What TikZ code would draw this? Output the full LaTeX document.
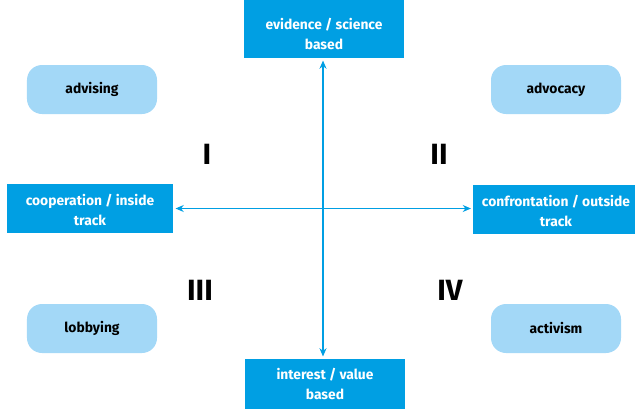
\documentclass[tikz,border=0pt]{standalone}
\usepackage{fontspec}
\setmainfont{Fira Sans}
\usetikzlibrary{arrows.meta}
\definecolor{axisblue}{HTML}{009FE3}
\definecolor{paleblue}{HTML}{A3D8F7}
\tikzset{
    pole/.style={fill=axisblue,text=white,font=\bfseries\fontsize{11.8}{17}\selectfont,
        align=center,inner sep=0pt,minimum width=#1,minimum height=1.47cm},
    pole/.default=4.8cm,
    kind/.style={fill=paleblue,text=black,font=\bfseries\fontsize{11.8}{13.5}\selectfont,
        rounded corners=0.45cm,minimum width=3.9cm,minimum height=1.47cm,inner sep=0pt},
    quarter/.style={font=\bfseries\fontsize{25}{30}\selectfont,text=black},
    axis/.style={axisblue,line width=0.9pt,{Stealth[length=7pt,width=6pt]}-{Stealth[length=7pt,width=6pt]}}
}
\begin{document}
\begin{tikzpicture}[x=0.03cm,y=-0.03cm]
    \useasboundingbox (0,0) rectangle (635,408);
    % poles of the two axes
    \node[pole,minimum height=1.74cm] (evidence) at (324,29) {\rule{0pt}{18pt}evidence / science\\based};
    \node[pole,minimum height=1.5cm] (interest) at (325,384) {interest / value\\based};
    \node[pole=4.98cm] (coop) at (90,208.5) {\rule{0pt}{12pt}cooperation / inside\\track};
    \node[pole=4.95cm] (confront) at (556,209.5) {\rule{0pt}{12pt}confrontation / outside\\track};
    % kinds of engagement
    \node[kind] (advising) at (92,89.5) {advising};
    \node[kind] (advocacy) at (556,89.5) {advocacy};
    \node[kind] (lobbying) at (92,328.5) {lobbying};
    \node[kind] (activism) at (556,328.5) {activism};
    % quadrant numbers
    \node[quarter] (q1) at (207,154) {I};
    \node[quarter] (q2) at (439,154) {II};
    \node[quarter] (q3) at (200,290) {III};
    \node[quarter] (q4) at (450,290) {IV};
    % axes
    \draw[axis] ([yshift=-2pt]evidence.south -| 323,0) -- ([yshift=2pt]interest.north -| 323,0);
    \draw[axis] ([xshift=2pt]coop.east) -- ([xshift=-2pt]confront.west |- coop.east);
\end{tikzpicture}
\end{document}
